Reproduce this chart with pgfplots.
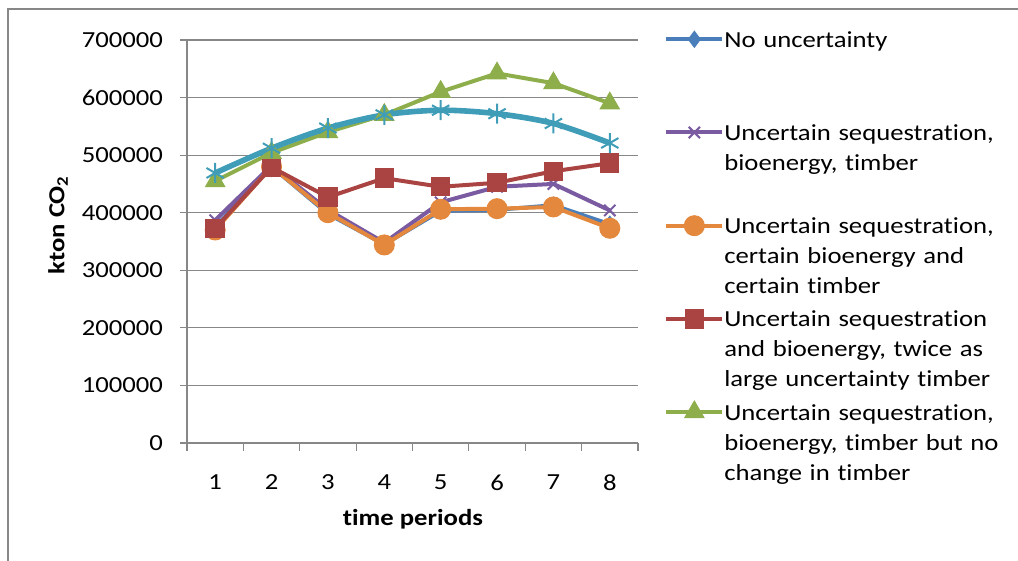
\documentclass[border=0pt]{standalone}
\usepackage{fontspec}
\setmainfont{Carlito}[FakeStretch=1.16, Ligatures=NoCommon]
\usepackage{pgfplots}
\pgfplotsset{compat=1.18}
\definecolor{cblue}{HTML}{4A7EBB}
\definecolor{cpurple}{HTML}{7A5AA0}
\definecolor{corange}{HTML}{E3883C}
\definecolor{cred}{HTML}{A94442}
\definecolor{cgreen}{HTML}{8DAE4B}
\definecolor{ccyan}{HTML}{3F9DB8}
\definecolor{cgrid}{HTML}{878787}
\begin{document}
\begin{tikzpicture}
\path[use as bounding box] (0,0) rectangle (509pt,280.5pt);
\draw[cgrid, line width=0.6pt] (4pt,0) -- (4pt,276pt) -- (509pt,276pt);
\begin{axis}[
  at={(93.5pt,59pt)}, anchor=south west,
  scale only axis, width=225.5pt, height=201.5pt,
  xmin=0.5, xmax=8.5, ymin=0, ymax=700000,
  axis x line*=bottom, axis y line*=left,
  axis line style={cgrid, line width=0.6pt, -},
  xtick={1,...,8}, xticklabels={1,2,3,4,5,6,7,8},
  minor xtick={0.5,1.5,...,8.5},
  ytick={0,100000,...,700000},
  yticklabels={0,100000,200000,300000,400000,500000,600000,700000},
  scaled y ticks=false,
  tick align=outside,
  major tick length=3.5pt, minor tick length=4pt,
  every major x tick/.append style={draw=none},
  every minor x tick/.append style={cgrid, line width=0.6pt},
  every major y tick/.append style={cgrid, line width=0.6pt},
  ymajorgrids, grid style={cgrid, line width=0.6pt},
  tick label style={font=\fontsize{11.5}{14}\selectfont},
  yticklabel style={xshift=-5pt},
  xticklabel style={yshift=-9pt},
  xlabel={\bfseries time periods},
  ylabel={\bfseries kton CO\textsubscript{2}},
  xlabel style={at={(axis description cs:0.501,-0.189)}, anchor=center, font=\fontsize{11.5}{14}\selectfont},
  ylabel style={at={(axis description cs:-0.286,0.541)}, anchor=center, font=\fontsize{11.5}{14}\selectfont},
  legend style={at={(axis description cs:1.0576,1.035)}, anchor=north west, draw=none, fill=none,
    inner sep=0pt, row sep=1.6pt, column sep=0pt, font=\fontsize{11.5}{15}\selectfont,
    cells={anchor=base west}, nodes={text width=150pt, align=left, inner sep=0pt, text depth={}}},
  legend image code/.code={\draw[mark repeat=2,mark phase=2,#1] plot coordinates {(0pt,4pt)(14pt,4pt)(28pt,4pt)};},
]
\addplot[cblue, line width=2pt, mark=diamond*, mark size=4pt, mark options={solid, fill=cblue, line width=0.5pt}]
 coordinates {(1,375000)(2,480000)(3,398000)(4,345000)(5,403000)(6,405000)(7,413000)(8,380000)};
\addlegendentry{\strut No uncertainty\\\mbox{}\\\mbox{}\strut}
\addplot[cpurple, line width=2pt, mark=x, mark size=4pt, mark options={solid, line width=1pt}]
 coordinates {(1,387000)(2,482000)(3,405000)(4,348000)(5,418000)(6,445000)(7,450000)(8,404000)};
\addlegendentry{\strut Uncertain sequestration,\\bioenergy, timber\\\mbox{}\strut}
\addplot[corange, line width=2pt, mark=*, mark size=5pt, mark options={solid, fill=corange, line width=0.5pt}]
 coordinates {(1,370000)(2,480000)(3,400000)(4,344000)(5,406000)(6,407000)(7,410000)(8,373000)};
\addlegendentry{\strut Uncertain sequestration,\\certain bioenergy and\\certain timber\strut}
\addplot[cred, line width=2pt, mark=square*, mark size=4.6pt, mark options={solid, fill=cred, line width=0.5pt}]
 coordinates {(1,373000)(2,479000)(3,427000)(4,460000)(5,445000)(6,452000)(7,472000)(8,486000)};
\addlegendentry{\strut Uncertain sequestration\\and bioenergy, twice as\\large uncertainty timber\strut}
\addplot[cgreen, line width=2pt, mark=triangle*, mark size=5.5pt, mark options={solid, fill=cgreen, line width=0.5pt}]
 coordinates {(1,455000)(2,504000)(3,540000)(4,570000)(5,610000)(6,642000)(7,625000)(8,590000)};
\addlegendentry{\strut Uncertain sequestration,\\bioenergy, timber but no\\change in timber\strut}
\addplot[ccyan, line width=2.8pt, smooth, mark=asterisk, mark size=5pt, mark options={solid, line width=1pt}, forget plot]
 coordinates {(1,469000)(2,512000)(3,547000)(4,570000)(5,578000)(6,572000)(7,555000)(8,521000)};
\end{axis}
\end{tikzpicture}
\end{document}
